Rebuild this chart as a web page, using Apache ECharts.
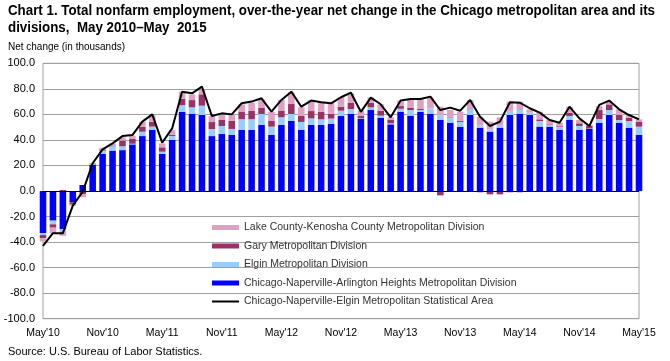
<!DOCTYPE html>
<html>
<head>
<meta charset="utf-8">
<script src="https://cdn.jsdelivr.net/npm/echarts@6/dist/echarts.min.js"></script>
<style>
html,body{margin:0;padding:0;background:#fff;}
#chart{width:670px;height:361px;}
</style>
</head>
<body>
<div id="chart"></div>
<script>
const months = ["May'10","Jun'10","Jul'10","Aug'10","Sep'10","Oct'10","Nov'10","Dec'10","Jan'11","Feb'11","Mar'11","Apr'11",
"May'11","Jun'11","Jul'11","Aug'11","Sep'11","Oct'11","Nov'11","Dec'11","Jan'12","Feb'12","Mar'12","Apr'12",
"May'12","Jun'12","Jul'12","Aug'12","Sep'12","Oct'12","Nov'12","Dec'12","Jan'13","Feb'13","Mar'13","Apr'13",
"May'13","Jun'13","Jul'13","Aug'13","Sep'13","Oct'13","Nov'13","Dec'13","Jan'14","Feb'14","Mar'14","Apr'14",
"May'14","Jun'14","Jul'14","Aug'14","Sep'14","Oct'14","Nov'14","Dec'14","Jan'15","Feb'15","Mar'15","Apr'15","May'15"];

const chicagoArlington = [-33,-23.2,-29.8,-8.9,4.7,20.5,29,31.6,32,36.5,43,47.8,
29,40,62,60.3,59.5,43,44.6,43.9,47.8,47.8,51.7,43.9,
51.7,54.8,47.8,51.7,51.7,52.5,58.7,60.3,56.4,63.4,57.4,52.2,
62.1,59,62.1,60.3,55.6,53.5,50.4,59.5,49.6,46.5,49.6,59.5,
60.3,59.5,50.4,50.4,47.8,55.6,47.8,48.6,53.5,59.5,53.5,49.6,43.9];

const elgin = [-1.5,-2.9,-1.6,0,0,0.5,2.6,3.5,3,0.5,3.4,2.6,
1.8,3.1,5.2,5.2,7.3,5.5,6.3,4.7,8.4,8.4,8.6,6.5,
6,5.5,6.3,5.2,4.4,4.2,4.2,3.9,0.5,2.1,1.6,0.8,
2.3,4.4,1.3,4.4,3.4,4.2,3.7,3.9,1.6,1.8,2.1,3.1,
3.1,1.8,4.4,1.3,2.6,3.1,3.1,0.3,2.9,3.9,2.1,5.2,6.5];

const gary = [-2.5,-2.6,0.8,-1.8,-2.6,0.5,1,0.5,4.5,3.8,3.9,3.9,
3.4,1,5,5.7,8.9,5.5,4.7,6.3,6,6.5,4.7,4.4,
5,7.8,4.7,5.7,6,3.7,3.1,5,1.8,3.7,3.9,2.6,
2.1,1.6,0.8,0,-3.4,0.5,0.8,0,-1,-2.6,-2.6,-1,
-1,0,1.3,0.5,0.8,2.6,2.1,2.3,7,4.4,3.9,2.6,3.9];

const lakeKenosha = [-2.5,-4.4,-3.7,-0.8,-2.3,0.3,1.3,1.5,2.5,2.5,3.9,5,
3.1,3.5,5.5,4.4,3.4,4.7,3.9,4.7,5.7,6.5,6.8,7.3,
8.6,8.9,6.8,8.6,7.8,8.4,7.3,7.3,4.2,3.9,5,2.1,
4.2,6.8,7.6,8.4,7,5.2,7.3,7.8,7,6,6,7.3,
6.5,2.6,6,3.4,2.3,4.7,2.6,0.5,3.1,2.1,4.4,2.1,1.8];

const msaTotal = [-43,-33,-33,-11.5,-0.5,21.7,32.6,37.3,43,43.8,54.3,60,
37.9,49,77.8,76.5,81.7,58.7,60.8,60,68.7,70,72.6,62.1,
71.3,77.8,66,70.8,69.5,68.7,73.4,77,62,73.1,67.9,57.7,
70.8,72.1,72.1,73.9,63.4,65.3,62.9,71.3,58.2,50.9,54.3,69.5,
69.2,64.8,61.4,55.6,53.5,66,56.9,50.9,67.4,70.8,64,59.5,56.1];

const names = {
  lake: 'Lake County-Kenosha County Metropolitan Division',
  gary: 'Gary Metropolitan Division',
  elgin: 'Elgin Metropolitan Division',
  chi: 'Chicago-Naperville-Arlington Heights Metropolitan Division',
  msa: 'Chicago-Naperville-Elgin Metropolitan Statistical Area'
};

const titleLine1 = 'Chart 1. Total nonfarm employment, over-the-year net change in the Chicago metropolitan area and its';
const titleLine2 = 'divisions,  May 2010\u2013May  2015';
const subTitle = 'Net change (in thousands)';
const sourceText = 'Source: U.S. Bureau of Labor Statistics.';

const FONT = '"Liberation Sans", Arial, sans-serif';
const mctx = document.createElement('canvas').getContext('2d');
function textW(t, font) { mctx.font = font; return mctx.measureText(t).width; }
const titleFont = 'bold 14px ' + FONT;
const titleScale = 647 / textW(titleLine1, titleFont);
const subFont = '11px ' + FONT;
const subScale = 117 / textW(subTitle, subFont);

const chart = echarts.init(document.getElementById('chart'), null, {renderer: 'canvas'});
const barW = '66%';
const option = {
  animation: false,
  backgroundColor: '#ffffff',
  textStyle: {fontFamily: FONT},
  graphic: [
    {type: 'text', left: 8, top: 4, scaleX: titleScale, originX: 0,
     style: {text: titleLine1, font: titleFont, fill: '#000'}},
    {type: 'text', left: 8, top: 21, scaleX: titleScale, originX: 0,
     style: {text: titleLine2, font: titleFont, fill: '#000'}},
    {type: 'text', left: 8, top: 41, scaleX: subScale, originX: 0,
     style: {text: subTitle, font: subFont, fill: '#000'}},
    {type: 'text', left: 8, top: 346,
     style: {text: sourceText, font: '11px ' + FONT, fill: '#000'}}
  ],
  legend: {
    orient: 'vertical',
    left: 207, top: 216,
    itemWidth: 27, itemHeight: 5, itemGap: 5.5,
    textStyle: {fontSize: 10.5, color: '#333', lineHeight: 13, fontFamily: FONT},
    data: [
      {name: names.lake, icon: 'rect'},
      {name: names.gary, icon: 'rect'},
      {name: names.elgin, icon: 'rect'},
      {name: names.chi, icon: 'rect'},
      {name: names.msa, icon: 'path://M0,0 L27,0 L27,2 L0,2 Z', itemStyle: {color: '#000'}}
    ]
  },
  grid: {left: 43, right: 31, top: 63.3, bottom: 42.3, show: true, borderColor: '#a0a0a0', borderWidth: 1},
  xAxis: {
    type: 'category',
    data: months,
    boundaryGap: false,
    axisLine: {show: false, onZero: false},
    axisTick: {show: false},
    splitLine: {show: false},
    axisLabel: {interval: 5, margin: 9, fontSize: 10.5, color: '#000', fontFamily: FONT}
  },
  yAxis: {
    type: 'value',
    min: -100, max: 100, interval: 20,
    axisLine: {show: false},
    axisTick: {show: false},
    splitLine: {lineStyle: {color: '#a0a0a0', width: 1}},
    axisLabel: {margin: 8, fontSize: 11, color: '#000', formatter: v => v.toFixed(1)}
  },
  series: [
    {name: names.chi, type: 'bar', stack: 'div', data: chicagoArlington, barWidth: barW, itemStyle: {color: '#0000FF'}, clip: true,
     markLine: {silent: true, symbol: 'none', label: {show: false}, lineStyle: {color: '#000', width: 1, type: 'solid'}, data: [{yAxis: 0}]}},
    {name: names.elgin, type: 'bar', stack: 'div', data: elgin, barWidth: barW, itemStyle: {color: '#99CCFF'}, clip: true},
    {name: names.gary, type: 'bar', stack: 'div', data: gary, barWidth: barW, itemStyle: {color: '#993366'}, clip: true},
    {name: names.lake, type: 'bar', stack: 'div', data: lakeKenosha, barWidth: barW, itemStyle: {color: '#DFA0C4'}, clip: true},
    {name: names.msa, type: 'line', data: msaTotal, showSymbol: false, symbol: 'none', lineStyle: {color: '#000', width: 2}, itemStyle: {color: '#000'}, z: 5}
  ]
};
chart.setOption(option);
</script>
</body>
</html>
